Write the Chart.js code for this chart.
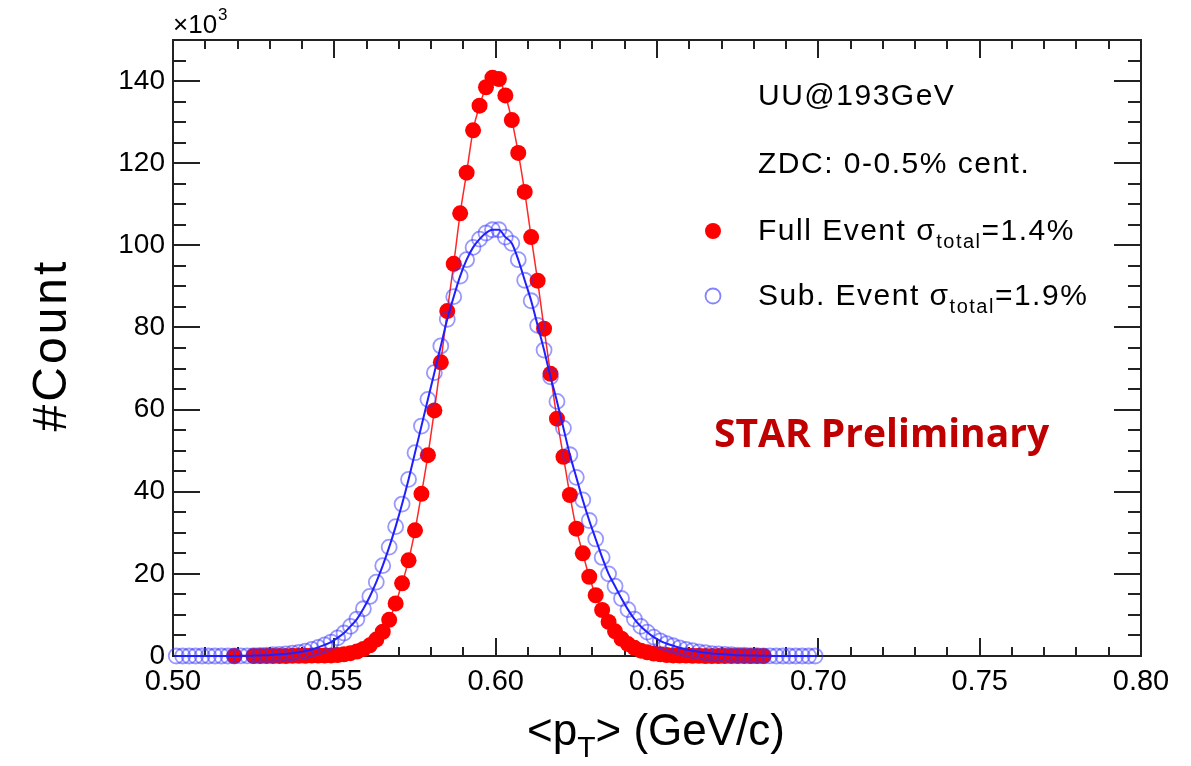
<!DOCTYPE html>
<html>
<head>
<meta charset="utf-8">
<script src="https://cdn.jsdelivr.net/npm/chart.js@4.4.1/dist/chart.umd.min.js"></script>
<style>
  html, body { margin: 0; padding: 0; background: #fff; }
  #wrap { width: 1191px; height: 766px; }
</style>
</head>
<body>
<div id="wrap"><canvas id="chart" width="1191" height="766"></canvas></div>
<script>
// <pT> bin centres (GeV/c)
const binCenters = [
  0.501, 0.503, 0.505, 0.507, 0.509, 0.511, 0.513, 0.515, 0.517, 0.519,
  0.521, 0.523, 0.525, 0.527, 0.529, 0.531, 0.533, 0.535, 0.537, 0.539,
  0.541, 0.543, 0.545, 0.547, 0.549, 0.551, 0.553, 0.555, 0.557, 0.559,
  0.561, 0.563, 0.565, 0.567, 0.569, 0.571, 0.573, 0.575, 0.577, 0.579,
  0.581, 0.583, 0.585, 0.587, 0.589, 0.591, 0.593, 0.595, 0.597, 0.599,
  0.601, 0.603, 0.605, 0.607, 0.609, 0.611, 0.613, 0.615, 0.617, 0.619,
  0.621, 0.623, 0.625, 0.627, 0.629, 0.631, 0.633, 0.635, 0.637, 0.639,
  0.641, 0.643, 0.645, 0.647, 0.649, 0.651, 0.653, 0.655, 0.657, 0.659,
  0.661, 0.663, 0.665, 0.667, 0.669, 0.671, 0.673, 0.675, 0.677, 0.679,
  0.681, 0.683, 0.685, 0.687, 0.689, 0.691, 0.693, 0.695, 0.697, 0.699
];

// counts in units of 10^3
const fullEvent = [
  null, null, null, null, null, null, null, null, null, 0,
  null, null, 0, 0, 0, 0, 0, 0, 0.05, 0.05,
  0.05, 0.1, 0.1, 0.1, 0.15, 0.25, 0.4, 0.7, 1.1, 1.7,
  2.6, 4.0, 5.9, 8.8, 12.8, 17.7, 23.3, 30.6, 39.5, 48.9,
  59.8, 71.5, 84.0, 95.5, 107.8, 117.7, 128.0, 134.0, 138.5, 140.8,
  140.5, 136.5, 130.5, 122.5, 113.0, 102.0, 91.4, 79.7, 68.7, 57.8,
  48.5, 39.2, 31.0, 25.0, 19.3, 14.8, 11.2, 8.3, 6.0, 4.2,
  2.9, 2.0, 1.3, 0.9, 0.6, 0.4, 0.25, 0.15, 0.1, 0.1,
  0.05, 0.05, 0, 0, 0, 0, 0, 0, 0, 0,
  0, 0, null, null, null, null, null, null, null, null
];

const subEvent = [
  0, 0, 0, 0, 0, 0, 0, 0, 0, 0,
  0.05, 0.05, 0.1, 0.15, 0.2, 0.3, 0.4, 0.5, 0.7, 0.9,
  1.2, 1.6, 2.1, 2.7, 3.4, 4.4, 5.6, 7.2, 9.0, 11.5,
  14.5, 18.0, 22.0, 26.5, 31.5, 37.0, 43.0, 49.5, 56.0, 62.5,
  69.0, 75.5, 82.0, 87.5, 92.5, 96.5, 99.5, 101.5, 103.0, 103.8,
  103.8, 102.0, 100.5, 96.5, 91.5, 86.5, 80.5, 74.5, 68.0, 62.0,
  55.5, 49.0, 43.5, 38.0, 33.0, 28.5, 24.0, 20.0, 17.0, 14.0,
  11.3, 9.0, 7.2, 5.8, 4.6, 3.7, 3.0, 2.5, 2.0, 1.6,
  1.3, 1.0, 0.8, 0.6, 0.5, 0.4, 0.3, 0.2, 0.2, 0.1,
  0.1, 0.05, 0.05, 0, 0, 0, 0, 0, 0, 0
];

const xMajorTicks = [0.50, 0.55, 0.60, 0.65, 0.70, 0.75, 0.80];
const yMajorTicks = [0, 20, 40, 60, 80, 100, 120, 140];

const FONT = "'Liberation Sans', Arial, Helvetica, sans-serif";

function toPoints(values) {
  return binCenters.map((x, i) => ({ x: x, y: values[i] }));
}

// ROOT-like frame with inward ticks on all four sides
const rootFrame = {
  id: 'rootFrame',
  beforeDatasetsDraw(chart) {
    const { ctx, chartArea: a, scales: { x, y } } = chart;
    ctx.save();
    ctx.strokeStyle = '#222';
    ctx.lineWidth = 2;
    ctx.strokeRect(a.left, a.top, a.right - a.left, a.bottom - a.top);
    ctx.beginPath();
    for (let k = 0; k <= 30; k++) {
      const v = 0.5 + k * 0.01;
      const px = Math.round(x.getPixelForValue(v));
      const len = k % 5 === 0 ? 18 : 9;
      ctx.moveTo(px, a.bottom); ctx.lineTo(px, a.bottom - len);
      ctx.moveTo(px, a.top); ctx.lineTo(px, a.top + len);
    }
    for (let k = 0; k <= 30; k++) {
      const v = k * 5;
      const py = Math.round(y.getPixelForValue(v));
      const len = (v % 20 === 0) ? 27 : 13;
      ctx.moveTo(a.left, py); ctx.lineTo(a.left + len, py);
      ctx.moveTo(a.right, py); ctx.lineTo(a.right - len, py);
    }
    ctx.stroke();
    ctx.restore();
  },
  afterDraw(chart) {
    const { ctx, chartArea: a } = chart;
    ctx.save();
    ctx.fillStyle = '#000';
    ctx.textBaseline = 'alphabetic';

    // exponent label
    ctx.font = '26px ' + FONT;
    ctx.textAlign = 'left';
    ctx.fillText('\u00d710', a.left, 33);
    const w = ctx.measureText('\u00d710').width;
    ctx.font = '17px ' + FONT;
    ctx.fillText('3', a.left + w + 1, 20);

    // y title
    ctx.save();
    ctx.translate(66, 345);
    ctx.rotate(-Math.PI / 2);
    ctx.font = '48px ' + FONT;
    ctx.letterSpacing = '3px';
    ctx.textAlign = 'center';
    ctx.fillText('#Count', 0, 0);
    ctx.restore();

    // x title with subscript
    drawParts(ctx, 527, 745, [
      { t: '<p', size: 44 },
      { t: 'T', size: 30, dy: 12 },
      { t: '> (GeV/c)', size: 44 }
    ], '0px');

    // info text
    const sp = '1.5px';
    drawParts(ctx, 758, 105, [{ t: 'UU@193GeV', size: 30 }], sp);
    drawParts(ctx, 758, 173, [{ t: 'ZDC: 0-0.5% cent.', size: 30 }], sp);
    drawParts(ctx, 758, 240, [
      { t: 'Full Event \u03c3', size: 30 },
      { t: 'total', size: 20, dy: 8 },
      { t: '=1.4%', size: 30 }
    ], sp);
    drawParts(ctx, 758, 305, [
      { t: 'Sub. Event \u03c3', size: 30 },
      { t: 'total', size: 20, dy: 8 },
      { t: '=1.9%', size: 30 }
    ], sp);

    // legend markers
    ctx.fillStyle = '#ff0000';
    ctx.beginPath();
    ctx.arc(713, 231, 8, 0, Math.PI * 2);
    ctx.fill();
    ctx.strokeStyle = 'rgba(50,50,255,0.6)';
    ctx.lineWidth = 1.8;
    ctx.beginPath();
    ctx.arc(713, 296, 7.5, 0, Math.PI * 2);
    ctx.stroke();

    // preliminary tag
    ctx.fillStyle = '#c00000';
    ctx.font = "bold 39px 'Open Sans', sans-serif";
    ctx.letterSpacing = '0px';
    ctx.fillText('STAR Preliminary', 714, 447);
    ctx.restore();
  }
};

function drawParts(ctx, x, y, parts, spacing) {
  ctx.save();
  ctx.fillStyle = '#000';
  ctx.textAlign = 'left';
  ctx.letterSpacing = spacing || '0px';
  let cx = x;
  parts.forEach(p => {
    ctx.font = p.size + 'px ' + FONT;
    ctx.fillText(p.t, cx, y + (p.dy || 0));
    cx += ctx.measureText(p.t).width;
  });
  ctx.restore();
}

const ctx = document.getElementById('chart').getContext('2d');
const chart = new Chart(ctx, {
  type: 'scatter',
  data: {
    datasets: [
      {
        label: 'Sub. Event fit',
        data: toPoints(subEvent),
        showLine: true,
        pointRadius: 0,
        borderColor: '#1f1fff',
        borderWidth: 2,
        cubicInterpolationMode: 'monotone',
        spanGaps: true,
        clip: false,
        order: 0
      },
      {
        label: 'Sub. Event',
        data: toPoints(subEvent),
        showLine: false,
        pointRadius: 7.5,
        pointBorderWidth: 1.8,
        pointBorderColor: 'rgba(50,50,255,0.5)',
        pointBackgroundColor: 'rgba(0,0,0,0)',
        clip: false,
        order: 1
      },
      {
        label: 'Full Event fit',
        data: toPoints(fullEvent),
        showLine: true,
        pointRadius: 0,
        borderColor: 'rgba(255,0,0,0.85)',
        borderWidth: 1.5,
        cubicInterpolationMode: 'monotone',
        spanGaps: true,
        clip: false,
        order: 2
      },
      {
        label: 'Full Event',
        data: toPoints(fullEvent),
        showLine: false,
        pointRadius: 8,
        pointBorderWidth: 0,
        pointBackgroundColor: '#ff0000',
        clip: false,
        order: 3
      }
    ]
  },
  options: {
    responsive: false,
    animation: false,
    devicePixelRatio: 1,
    layout: { padding: { top: 40, right: 50, left: 0, bottom: 0 } },
    plugins: {
      legend: { display: false },
      tooltip: { enabled: false }
    },
    scales: {
      x: {
        type: 'linear',
        min: 0.5,
        max: 0.8,
        grid: { display: false, drawTicks: false },
        border: { display: false },
        afterBuildTicks: s => { s.ticks = xMajorTicks.map(v => ({ value: v })); },
        afterFit: s => { s.height = 110; },
        ticks: {
          padding: 9,
          color: '#000',
          font: { family: FONT, size: 29 },
          maxRotation: 0,
          callback: v => v.toFixed(2)
        }
      },
      y: {
        min: 0,
        max: 150,
        grid: { display: false, drawTicks: false },
        border: { display: false },
        afterBuildTicks: s => { s.ticks = yMajorTicks.map(v => ({ value: v })); },
        afterFit: s => { s.width = 173; },
        ticks: {
          padding: 8,
          color: '#000',
          font: { family: FONT, size: 28 },
          callback: v => String(v)
        }
      }
    }
  },
  plugins: [rootFrame]
});
</script>
</body>
</html>
